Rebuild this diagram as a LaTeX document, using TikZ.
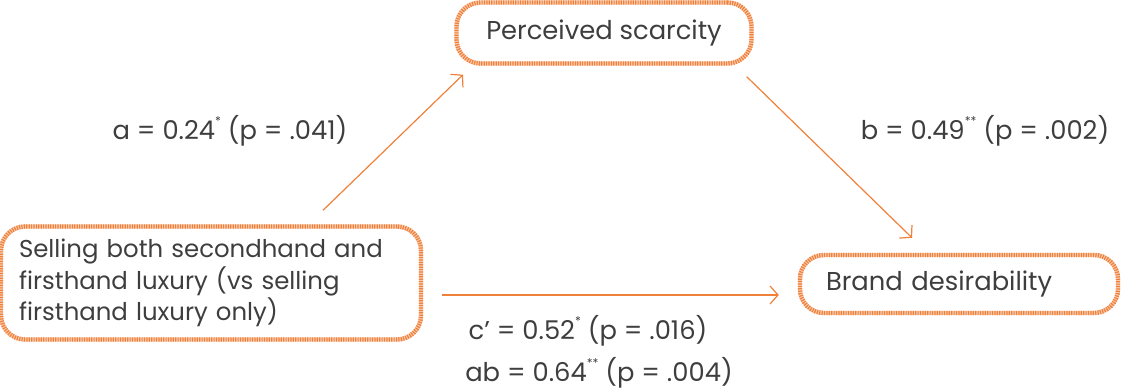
\documentclass[tikz,border=0pt]{standalone}
\usepackage{fontspec}
\setmainfont{Poppins}
\usetikzlibrary{positioning,arrows.meta}
\definecolor{accent}{RGB}{240,128,58}
\definecolor{ink}{RGB}{62,62,62}
\newcommand\signif[1]{\raisebox{0.55em}{\fontsize{6}{6}\selectfont #1}}
\tikzset{
  construct/.style={
    draw=accent,
    dash pattern=on 0.6pt off 0.6pt,
    line width=2.2pt,
    preaction={draw=accent!40, solid, line width=2.2pt},
    rounded corners=12pt,
    text=ink,
    font=\fontsize{12.9}{15}\selectfont
  },
  effect/.style={
    -{Straight Barb[length=4pt,width=9pt]},
    accent,
    line width=0.6pt
  },
  coef/.style={
    text=ink,
    font=\fontsize{12.9}{15}\selectfont
  }
}
\begin{document}
\begin{tikzpicture}[x=0.5pt,y=-0.5pt]
\useasboundingbox (0,0) rectangle (1122,390);

\node[construct, minimum width=147.5pt, minimum height=30.5pt] (scar) at (604,33) {Perceived scarcity};

\node[construct, font=\fontsize{12.2}{14.5}\selectfont, text width=192pt, align=left, inner xsep=9pt, minimum height=56.5pt] (sel) at (211,283) {%
Selling both secondhand and\\
firsthand luxury (vs selling\\
firsthand luxury only)%
};

\node[construct, text width=133pt, align=left, inner xsep=13pt, minimum height=29pt] (des) at (959,284) {Brand desirability};

\draw[effect] ([shift={(112,-14)}]sel.north) -- ([shift={(-141,9)}]scar.south);
\draw[effect] ([shift={(-7,11)}]scar.south east) -- ([shift={(-47,-15)}]des.north);
\draw[effect] ([shift={(19,12)}]sel.east) -- ([shift={(-19,11)}]des.west);

\node[coef] (la) at (230,131) {a = 0.24\signif{*} (p = .041)};
\node[coef] (lb) at (985,131) {b = 0.49\signif{**} (p = .002)};
\node[coef] (lc) at (588,331) {c’ = 0.52\signif{*} (p = .016)};
\node[coef] (lab) at (599,373) {ab = 0.64\signif{**} (p = .004)};

\end{tikzpicture}
\end{document}
